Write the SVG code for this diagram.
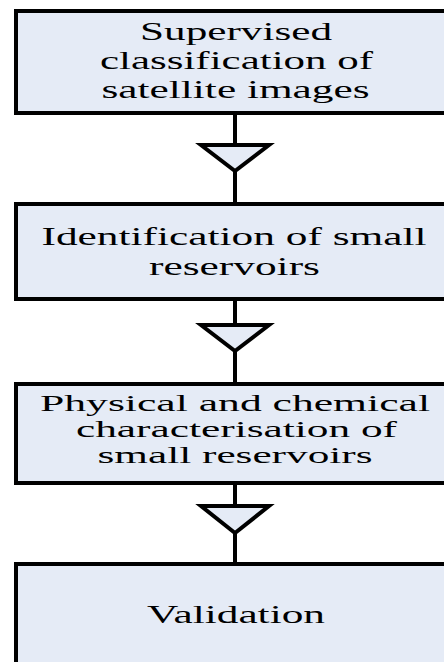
<svg xmlns="http://www.w3.org/2000/svg" width="444" height="662" viewBox="0 0 444 662">
<style>
.box{fill:#E5EBF6;stroke:#000;stroke-width:4}
.tri{fill:#E5EBF6;stroke:#000;stroke-width:4;stroke-linejoin:miter}
.ln{stroke:#000;stroke-width:4;fill:none}
</style>
<rect width="444" height="662" fill="#fff"/>
<g id="connectors">
<line class="ln" x1="235" y1="113" x2="235" y2="204"/>
<polygon class="tri" points="201,145 269,145 235,171"/>
<line class="ln" x1="235" y1="299" x2="235" y2="384"/>
<polygon class="tri" points="201,325 269,325 235,351"/>
<line class="ln" x1="235" y1="483" x2="235" y2="564"/>
<polygon class="tri" points="201,506 269,506 235,533"/>
</g>
<g font-family="Liberation Serif, serif" font-size="25" fill="#000" text-anchor="middle">
<g id="n1">
<rect class="box" x="16" y="11" width="450" height="102"/>
<text x="236" y="40" textLength="192" lengthAdjust="spacingAndGlyphs">Supervised</text>
<text x="236.5" y="69" textLength="273" lengthAdjust="spacingAndGlyphs">classification of</text>
<text x="235.5" y="98" textLength="268" lengthAdjust="spacingAndGlyphs">satellite images</text>
</g>
<g id="n2">
<rect class="box" x="16" y="204" width="450" height="95"/>
<text x="234" y="245" textLength="385" lengthAdjust="spacingAndGlyphs">Identification of small</text>
<text x="234.5" y="275" textLength="171" lengthAdjust="spacingAndGlyphs">reservoirs</text>
</g>
<g id="n3">
<rect class="box" x="16" y="384" width="450" height="99"/>
<text x="235" y="410.5" font-size="24" textLength="390" lengthAdjust="spacingAndGlyphs">Physical and chemical</text>
<text x="236.5" y="437" font-size="24" textLength="321" lengthAdjust="spacingAndGlyphs">characterisation of</text>
<text x="235" y="463" font-size="24" textLength="275" lengthAdjust="spacingAndGlyphs">small reservoirs</text>
</g>
<g id="n4">
<rect class="box" x="16" y="564" width="450" height="120"/>
<text x="236" y="623" textLength="178" lengthAdjust="spacingAndGlyphs">Validation</text>
</g>
</g>
</svg>
